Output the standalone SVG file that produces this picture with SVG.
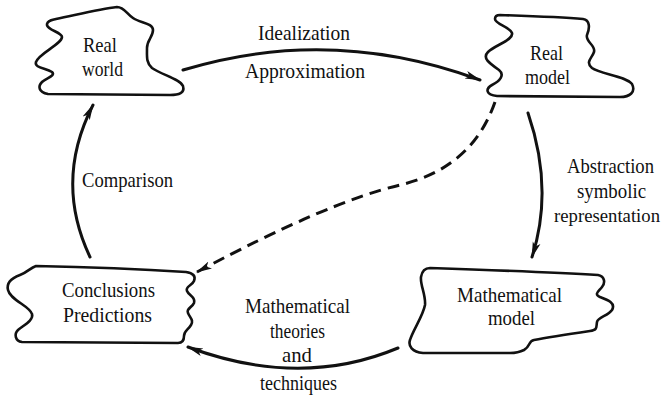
<svg xmlns="http://www.w3.org/2000/svg" width="667" height="398" viewBox="0 0 667 398">
<style>
.blob{fill:#fff;stroke:#111;stroke-width:2.6;stroke-linejoin:round}
.conn{fill:none;stroke:#111;stroke-width:3;stroke-linecap:round}
.dash{stroke-dasharray:12 7;stroke-linecap:butt}
text{font-family:"Liberation Serif","Times New Roman",serif;font-size:21px;fill:#111;text-anchor:middle}
</style>
<defs>
<marker id="ah" markerUnits="userSpaceOnUse" viewBox="0 0 16 10" refX="15" refY="5" markerWidth="16" markerHeight="10" orient="auto">
<path d="M0,1 L16,5 L0,9 L4,5 Z" fill="#111"/>
</marker>
</defs>
<rect width="667" height="398" fill="#fff"/>

<g id="connectors">
<path class="conn" d="M183,70 Q331,25 480,80" marker-end="url(#ah)"/>
<path class="conn" d="M528,113 Q554,189 532,257" marker-end="url(#ah)"/>
<path class="conn" d="M398,348 Q300,389 188,347" marker-end="url(#ah)"/>
<path class="conn" d="M90,257 Q54,181 93,105" marker-end="url(#ah)"/>
<path class="conn dash" d="M495,102 Q472,168 400,185 T197,272" marker-end="url(#ah)"/>
<g id="conn-labels">
<text x="304" y="40" textLength="92" lengthAdjust="spacingAndGlyphs">Idealization</text>
<text x="305" y="78" textLength="120" lengthAdjust="spacingAndGlyphs">Approximation</text>
<text x="610.5" y="173" textLength="87" lengthAdjust="spacingAndGlyphs">Abstraction</text>
<text x="611.5" y="198" textLength="69" lengthAdjust="spacingAndGlyphs">symbolic</text>
<text x="607" y="222" style="font-size:19.5px" textLength="106" lengthAdjust="spacingAndGlyphs">representation</text>
<text x="127.5" y="187" textLength="91" lengthAdjust="spacingAndGlyphs">Comparison</text>
<text x="297.5" y="313" textLength="105" lengthAdjust="spacingAndGlyphs">Mathematical</text>
<text x="297.5" y="338" textLength="55" lengthAdjust="spacingAndGlyphs">theories</text>
<text x="297" y="362" textLength="30" lengthAdjust="spacingAndGlyphs">and</text>
<text x="298.5" y="390" textLength="77" lengthAdjust="spacingAndGlyphs">techniques</text>
</g>
</g>

<g id="real-world">
<path class="blob" d="M56,19 C80,14 100,9 117,7 C124,7 127,14 133,18 C140,23 153,23 153,30 C153,37 147,40 147,48 C147,56 146,63 152,68 C162,75 180,79 183,86 C185,93 179,95 170,95 L48,94 C38,92 38,86 42,82 C46,78 56,76 52,72 C46,68 34,68 36,62 C38,54 62,44 62,37 C62,32 46,30 47,24 C48,20 52,20 56,19 Z"/>
<text x="100" y="52" textLength="34" lengthAdjust="spacingAndGlyphs">Real</text>
<text x="102.5" y="76" textLength="41" lengthAdjust="spacingAndGlyphs">world</text>
</g>

<g id="real-model">
<path class="blob" d="M500,15 C530,16 560,17 583,19 C590,20 590,28 587,35 C585,42 596,45 594,52 C592,58 585,62 592,68 C600,74 626,76 632,84 C636,92 630,97 620,97 L497,96 C486,95 485,89 492,85 C500,81 505,75 499,70 C489,63 482,58 488,52 C495,45 514,40 512,33 C510,27 495,24 495,19 C495,16 497,15 500,15 Z"/>
<text x="546.5" y="60" textLength="33" lengthAdjust="spacingAndGlyphs">Real</text>
<text x="547.5" y="84" textLength="45" lengthAdjust="spacingAndGlyphs">model</text>
</g>

<g id="conclusions">
<path class="blob" d="M36,266 C90,267 140,269 186,272 C193,273 196,276 194,281 C192,286 185,286 187,291 C189,296 196,297 194,303 C192,308 186,308 188,313 C190,318 194,320 191,325 C188,330 184,331 184,336 C184,341 182,343 178,343 L22,342 C15,341 14,334 18,330 C24,325 34,320 32,314 C30,306 10,300 8,290 C6,282 12,278 20,275 C28,272 30,268 36,266 Z"/>
<text x="108.5" y="297" textLength="93" lengthAdjust="spacingAndGlyphs">Conclusions</text>
<text x="107.5" y="322" textLength="89" lengthAdjust="spacingAndGlyphs">Predictions</text>
</g>

<g id="mathematical-model">
<path class="blob" d="M430,268 C490,270 550,272 598,275 C604,276 606,282 602,287 C598,292 594,294 600,297 C608,300 616,303 612,310 C608,316 598,317 597,322 C596,327 598,330 590,331 C570,334 550,337 534,340 C528,341 531,346 524,350 C520,352 516,353 510,353 L423,353 C412,352 408,346 410,340 C413,330 423,316 425,305 C426,295 420,285 421,277 C422,271 425,268 430,268 Z"/>
<text x="509.5" y="302" textLength="105" lengthAdjust="spacingAndGlyphs">Mathematical</text>
<text x="511.5" y="325" textLength="47" lengthAdjust="spacingAndGlyphs">model</text>
</g>
</svg>
